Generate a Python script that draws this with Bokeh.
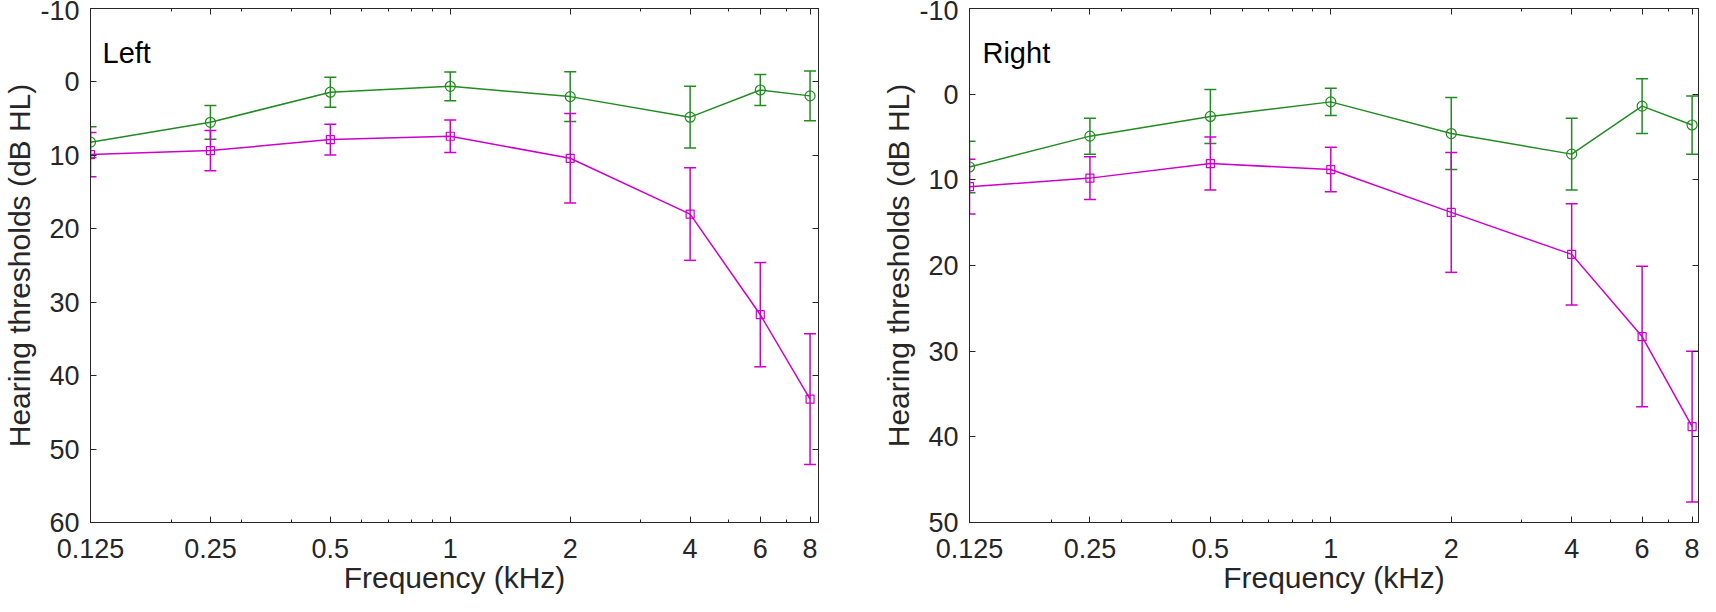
from bokeh.plotting import figure
from bokeh.models import Range1d, FixedTicker, LinearAxis, LogAxis, Label, ColumnDataSource
from bokeh.layouts import row
from bokeh.embed import file_html
from bokeh.resources import INLINE

# ---- data ----
freqs = [0.125, 0.25, 0.5, 1, 2, 4, 6, 8]
freq_labels = ["0.125", "0.25", "0.5", "1", "2", "4", "6", "8"]
minor_freqs = [0.2, 0.3, 0.4, 0.6, 0.7, 0.8, 0.9, 3, 5, 7]
y_ticks_left = [-10, 0, 10, 20, 30, 40, 50, 60]
y_labels_left = ["-10", "0", "10", "20", "30", "40", "50", "60"]
y_ticks_right = [-10, 0, 10, 20, 30, 40, 50]
y_labels_right = ["-10", "0", "10", "20", "30", "40", "50"]

left_green = [8.2, 5.5, 1.4, 0.6, 2.0, 4.8, 1.1, 1.9]
left_green_err = [2.1, 2.3, 2.05, 1.95, 3.4, 4.2, 2.1, 3.4]
left_magenta = [9.9, 9.35, 7.85, 7.4, 10.4, 18.0, 31.7, 43.2]
left_magenta_err = [3.0, 2.75, 2.1, 2.2, 6.1, 6.3, 7.1, 8.9]

right_green = [8.5, 4.9, 2.6, 0.9, 4.6, 7.0, 1.4, 3.6]
right_green_err = [3.0, 2.1, 3.15, 1.6, 4.2, 4.2, 3.2, 3.4]
right_magenta = [10.8, 9.8, 8.1, 8.8, 13.8, 18.7, 28.3, 38.8]
right_magenta_err = [3.2, 2.5, 3.1, 2.6, 7.0, 5.9, 8.2, 8.8]

GREEN = "#228B22"
MAGENTA = "#CC00CC"
AXC = "#262626"
FONT = "Liberation Sans"


def style_axis(ax, show_labels=True):
    ax.axis_line_color = AXC
    ax.axis_line_width = 1
    ax.major_tick_line_color = AXC
    ax.minor_tick_line_color = AXC
    ax.major_tick_in = 6
    ax.major_tick_out = 0
    ax.minor_tick_in = 3
    ax.minor_tick_out = 0
    ax.major_label_text_font = FONT
    if show_labels:
        ax.major_label_text_font_size = "27px"
        ax.major_label_text_color = AXC
    else:
        ax.major_label_text_font_size = "0px"
        ax.major_label_text_color = None
        ax.major_label_standoff = 0
    ax.axis_label_text_font = FONT
    ax.axis_label_text_font_style = "normal"
    ax.axis_label_text_font_size = "30px"
    ax.axis_label_text_color = AXC


def add_series(p, y, err, color, marker):
    lo = [a - e for a, e in zip(y, err)]
    hi = [a + e for a, e in zip(y, err)]
    src = ColumnDataSource(dict(x=freqs, y=y, lo=lo, hi=hi))
    p.line("x", "y", source=src, color=color, line_width=1.5)
    p.segment(x0="x", y0="lo", x1="x", y1="hi", source=src, color=color, line_width=1.5)
    p.scatter("x", "lo", source=src, marker="dash", size=12, line_color=color, line_width=1.5)
    p.scatter("x", "hi", source=src, marker="dash", size=12, line_color=color, line_width=1.5)
    if marker == "circle":
        p.scatter("x", "y", source=src, marker="circle", size=10, line_color=color,
                  fill_color=None, line_width=1.2)
    else:
        p.scatter("x", "y", source=src, marker="square", size=8, line_color=color,
                  fill_color=None, line_width=1.2)


def make_panel(title, green, green_err, mag, mag_err, ymax, yticks, ylabels, xmax, width,
               mbl, mbr, lx, ly):
    p = figure(width=width, height=596, x_axis_type="log",
               x_range=Range1d(0.125, xmax), y_range=Range1d(ymax, -10),
               output_backend="svg", toolbar_location=None,
               min_border_left=mbl, min_border_right=mbr,
               min_border_top=8, min_border_bottom=0)
    p.grid.visible = False
    p.outline_line_color = AXC
    p.background_fill_color = "white"
    p.border_fill_color = "white"

    xt = FixedTicker(ticks=freqs, minor_ticks=minor_freqs)
    yt = FixedTicker(ticks=yticks, minor_ticks=[])

    p.xaxis.ticker = xt
    p.xaxis.major_label_overrides = {f: s for f, s in zip(freqs, freq_labels)}
    p.xaxis.axis_label = "Frequency (kHz)"
    p.xaxis.major_label_standoff = 16
    p.xaxis.axis_label_standoff = 0
    p.yaxis.ticker = yt
    p.yaxis.major_label_overrides = {t: s for t, s in zip(yticks, ylabels)}
    p.yaxis.axis_label = "Hearing thresholds (dB HL)"
    p.yaxis.major_label_standoff = 11
    p.yaxis.axis_label_standoff = 1
    style_axis(p.xaxis[0])
    style_axis(p.yaxis[0])

    top = LogAxis(ticker=FixedTicker(ticks=freqs, minor_ticks=minor_freqs))
    style_axis(top, show_labels=False)
    p.add_layout(top, "above")
    right = LinearAxis(ticker=FixedTicker(ticks=yticks, minor_ticks=[]))
    style_axis(right, show_labels=False)
    p.add_layout(right, "right")

    add_series(p, green, green_err, GREEN, "circle")
    add_series(p, mag, mag_err, MAGENTA, "square")

    p.add_layout(Label(x=lx, y=ly, text=title, text_font=FONT, text_font_size="29px",
                       text_color="black", text_baseline="alphabetic"))
    return p


p1 = make_panel("Left", left_green, left_green_err, left_magenta, left_magenta_err,
                60, y_ticks_left, y_labels_left, 8.4, 870, 84, 52, 0.134, -3.95)
p2 = make_panel("Right", right_green, right_green_err, right_magenta, right_magenta_err,
                50, y_ticks_right, y_labels_right, 8.3, 830, 99, 2, 0.1347, -4.85)

layout = row(p1, p2)
open("out.html", "w").write(file_html(layout, INLINE))
